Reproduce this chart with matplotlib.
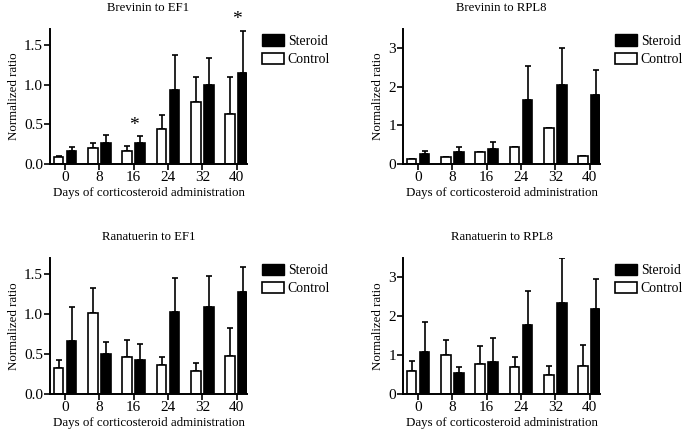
import numpy as np
import matplotlib
matplotlib.use("Agg")
from matplotlib import pyplot as plt
from matplotlib.patches import Patch

plt.rcParams['font.family'] = ['Liberation Serif', 'DejaVu Serif']
plt.rcParams['font.size'] = 9.3

days = ['0', '8', '16', '24', '32', '40']

# Brevinin to EF1
bev_ef1_ctrl = [0.09, 0.20, 0.17, 0.44, 0.78, 0.63]
bev_ef1_ctrl_err = [0.01, 0.06, 0.06, 0.18, 0.31, 0.47]
bev_ef1_ster = [0.16, 0.26, 0.27, 0.93, 1.00, 1.14]
bev_ef1_ster_err = [0.06, 0.11, 0.08, 0.44, 0.34, 0.53]

# Brevinin to RPL8
bev_rpl_ctrl = [0.14, 0.17, 0.30, 0.44, 0.93, 0.20]
bev_rpl_ctrl_err = [0, 0, 0, 0, 0, 0]
bev_rpl_ster = [0.27, 0.30, 0.40, 1.65, 2.05, 1.78]
bev_rpl_ster_err = [0.08, 0.13, 0.17, 0.89, 0.97, 0.67]

# Ranatuerin to EF1
ran_ef1_ctrl = [0.32, 1.01, 0.46, 0.36, 0.29, 0.47]
ran_ef1_ctrl_err = [0.11, 0.31, 0.22, 0.10, 0.10, 0.36]
ran_ef1_ster = [0.66, 0.50, 0.43, 1.02, 1.09, 1.27]
ran_ef1_ster_err = [0.43, 0.15, 0.20, 0.43, 0.38, 0.32]

# Ranatuerin to RPL8
ran_rpl_ctrl = [0.58, 1.01, 0.78, 0.69, 0.49, 0.71]
ran_rpl_ctrl_err = [0.26, 0.37, 0.45, 0.26, 0.24, 0.55]
ran_rpl_ster = [1.09, 0.54, 0.83, 1.77, 2.34, 2.19]
ran_rpl_ster_err = [0.76, 0.15, 0.60, 0.88, 1.15, 0.78]

panels = [
    ("Brevinin to EF1", bev_ef1_ctrl, bev_ef1_ctrl_err, bev_ef1_ster, bev_ef1_ster_err,
     1.7, [0.0, 0.5, 1.0, 1.5], ['0.0', '0.5', '1.0', '1.5'], {2: 0.48, 5: 1.82}),
    ("Brevinin to RPL8", bev_rpl_ctrl, bev_rpl_ctrl_err, bev_rpl_ster, bev_rpl_ster_err,
     3.5, [0, 1, 2, 3], ['0', '1', '2', '3'], {}),
    ("Ranatuerin to EF1", ran_ef1_ctrl, ran_ef1_ctrl_err, ran_ef1_ster, ran_ef1_ster_err,
     1.7, [0.0, 0.5, 1.0, 1.5], ['0.0', '0.5', '1.0', '1.5'], {}),
    ("Ranatuerin to RPL8", ran_rpl_ctrl, ran_rpl_ctrl_err, ran_rpl_ster, ran_rpl_ster_err,
     3.5, [0, 1, 2, 3], ['0', '1', '2', '3'], {}),
]

fig = plt.figure(figsize=(6.85, 4.33), dpi=100)
positions = [
    [50/685, 1 - 164/433, 197/685, 135/433],
    [403/685, 1 - 164/433, 197/685, 135/433],
    [50/685, 1 - 394/433, 197/685, 136/433],
    [403/685, 1 - 394/433, 197/685, 136/433],
]

x = np.arange(len(days))
w = 0.28
off = 0.19

for pos, (title, ctrl, ctrl_err, ster, ster_err, ymax, yt, ytl, stars) in zip(positions, panels):
    ax = fig.add_axes(pos)
    ax.bar(x - off, ctrl, w, color='white', edgecolor='black', linewidth=1.2, zorder=2)
    ax.bar(x + off, ster, w, color='black', edgecolor='black', linewidth=1.2, zorder=2)
    ax.errorbar(x - off, ctrl, yerr=[np.zeros(len(ctrl)), ctrl_err], fmt='none',
                ecolor='black', elinewidth=1.2, capsize=2.5, capthick=1.2, zorder=1)
    ax.errorbar(x + off, ster, yerr=[np.zeros(len(ster)), ster_err], fmt='none',
                ecolor='black', elinewidth=1.2, capsize=2.5, capthick=1.2, zorder=1)
    for i, yy in stars.items():
        ax.text(x[i], yy, '*', ha='center', va='center', fontsize=14, clip_on=False)
    ax.set_xlim(-0.44, 5.3)
    ax.set_ylim(0, ymax)
    ax.set_xticks(x)
    ax.set_xticklabels(days)
    ax.set_yticks(yt)
    ax.set_yticklabels(ytl)
    for s in ['top', 'right']:
        ax.spines[s].set_visible(False)
    for s in ['left', 'bottom']:
        ax.spines[s].set_linewidth(1.4)
    ax.tick_params(direction='out', width=1.2, length=4, pad=1, labelsize=11)
    ax.set_title(title, pad=13, fontsize=9.2)
    ax.set_xlabel('Days of corticosteroid administration', labelpad=2)
    ax.set_ylabel('Normalized ratio', labelpad=3)
    handles = [Patch(facecolor='black', edgecolor='black'),
               Patch(facecolor='white', edgecolor='black', linewidth=1.2)]
    ax.legend(handles, ['Steroid', 'Control'], loc='upper left', bbox_to_anchor=(1.05, 1.0),
              frameon=False, handlelength=1.6, handleheight=0.9, handletextpad=0.25,
              labelspacing=0.35, borderaxespad=0, fontsize=9.9)

fig.savefig('out.png', dpi=100)
